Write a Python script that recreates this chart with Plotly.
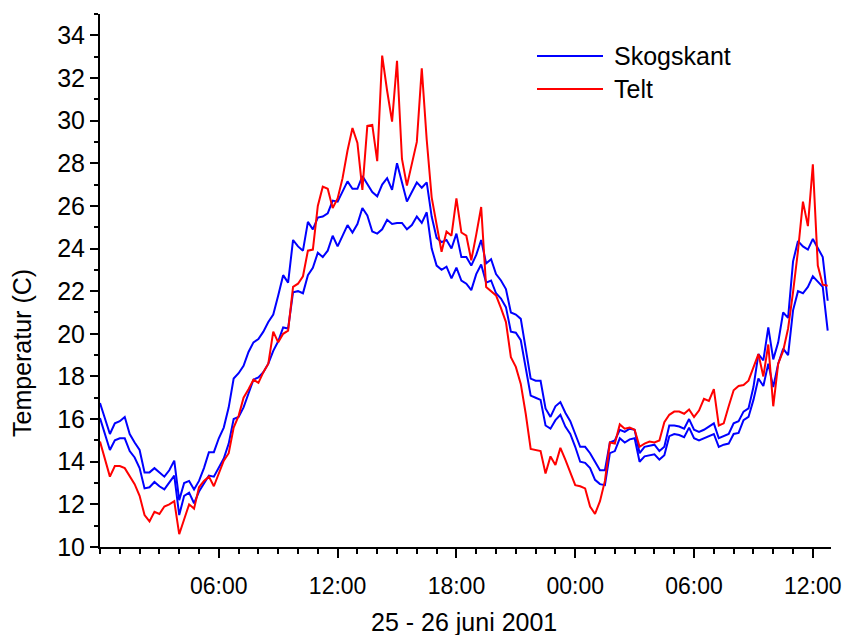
import pandas as pd
import plotly.graph_objects as go

# 15-minute readings starting 25 June 2001 00:00
start_time = "2001-06-25 00:00"
interval = "15min"

skogskant_a = [
    16.75, 16.0, 15.3, 15.8, 15.9, 16.1, 15.3, 14.9, 14.55, 13.5,
    13.5, 13.7, 13.5, 13.3, 13.6, 14.05, 12.2, 13.0, 13.1, 12.7,
    13.1, 13.7, 14.45, 14.45, 15.1, 15.6, 16.55, 17.9, 18.15, 18.5,
    19.15, 19.6, 19.75, 20.1, 20.55, 20.9, 21.8, 22.75,
    22.4, 24.4, 24.1, 23.9, 25.25, 24.9, 25.45, 25.5, 25.65, 26.25,
    26.2, 26.7, 27.15, 26.8, 26.8, 27.4, 27.0, 26.65, 26.45, 27.0,
    27.3, 26.75, 28.0, 27.05, 26.2, 26.65, 27.1, 26.85, 27.1, 25.5,
    24.5, 24.3, 24.4, 24.0, 24.7, 23.6, 23.6,
    23.2, 23.7, 24.4, 23.3, 23.5, 22.8, 22.5, 22.1, 21.0, 20.9,
    20.7, 19.3, 17.9, 17.8, 17.8, 16.5, 16.1, 16.6, 16.8, 16.3, 15.9,
    15.3, 14.7, 14.7, 14.4, 14.0, 13.6, 13.6, 14.9, 15.0, 15.5,
    15.4, 15.55, 15.5, 14.4, 14.7, 14.75,
    14.8, 14.5, 14.7, 15.7, 15.7, 15.65, 15.55, 16.0, 15.5, 15.4,
    15.5, 15.65, 15.8, 15.1, 15.2, 15.3, 15.8, 15.9, 16.35, 16.5,
    17.5, 19.05, 18.75, 20.3, 18.8, 19.6, 21.0, 20.75, 23.4, 24.35,
    24.1, 23.95, 24.45, 24.05, 23.6, 21.55,
]

skogskant_b = [
    16.05, 15.3, 14.55, 15.0, 15.1, 15.1, 14.5, 14.2, 13.7, 12.75,
    12.8, 13.05, 12.85, 12.7, 13.05, 13.35, 11.5, 12.4, 12.55, 12.05,
    12.6, 12.95, 13.35, 13.3, 13.75, 14.15, 14.85, 16.0, 16.1, 16.55,
    17.2, 17.85, 17.95, 18.2, 18.6, 19.2, 19.65, 20.3,
    20.25, 21.95, 22.0, 21.9, 22.75, 23.1, 23.8, 23.6, 23.9, 24.6,
    24.1, 24.6, 25.1, 24.75, 25.15, 25.9, 25.55, 24.8, 24.7, 24.9,
    25.35, 25.15, 25.2, 25.2, 24.9, 25.1, 25.5, 25.2, 25.7, 24.0,
    23.2, 23.0, 23.15, 22.6, 23.1, 22.5, 22.35,
    22.05, 22.8, 23.25, 22.4, 22.5, 21.9, 21.65, 21.25, 20.1, 20.05,
    19.7, 18.45, 17.1, 17.0, 16.9, 15.7, 15.55, 15.95, 16.2, 15.65, 15.3,
    14.7, 14.0, 13.95, 13.7, 13.15, 12.95, 12.9, 14.4, 14.5, 15.1,
    14.9, 15.05, 15.1, 14.0, 14.25, 14.3,
    14.35, 14.1, 14.3, 15.2, 15.3, 15.25, 15.15, 15.6, 15.1, 15.0,
    15.1, 15.2, 15.3, 14.7, 14.8, 14.85, 15.3, 15.35, 15.95, 16.1,
    16.9, 17.9, 17.55, 18.6, 17.5, 18.6, 19.3, 19.0, 21.1, 22.0,
    21.9, 22.2, 22.7, 22.45, 22.2, 20.15,
]

telt = [
    14.95, 14.15, 13.3, 13.8, 13.8, 13.7, 13.35, 12.95, 12.4, 11.5,
    11.2, 11.65, 11.55, 11.9, 12.0, 12.15, 10.6, 11.25, 12.0, 11.8,
    12.8, 13.1, 13.3, 12.85, 13.45, 14.05, 14.4, 15.6, 16.15, 17.0,
    17.4, 17.85, 17.7, 18.2, 18.6, 20.1, 19.6, 20.0,
    20.15, 22.2, 22.35, 22.7, 23.9, 23.95, 26.0, 26.9, 26.8, 25.9,
    26.35, 27.3, 28.6, 29.65, 28.95, 26.75, 29.75, 29.8, 28.1, 33.05,
    31.4, 29.95, 32.8, 28.2, 26.95, 28.0, 29.0, 32.45, 29.1, 26.4,
    25.2, 23.85, 24.8, 24.6, 26.35, 24.75, 24.6,
    23.45, 24.65, 25.95, 22.2, 22.0, 21.8, 21.2, 20.55, 18.9, 18.45,
    17.65, 16.25, 14.6, 14.55, 14.5, 13.45, 14.25, 13.85, 14.65, 14.1, 13.5,
    12.9, 12.85, 12.75, 11.9, 11.55, 12.15, 13.1, 14.9, 14.85, 15.75,
    15.55, 15.6, 15.5, 14.7, 14.85, 14.95,
    14.9, 15.0, 15.85, 16.2, 16.35, 16.35, 16.25, 16.45, 16.1, 16.4,
    16.95, 16.85, 17.4, 15.7, 15.8, 16.6, 17.35, 17.55, 17.6, 17.8,
    18.4, 19.05, 18.0, 19.5, 16.6, 18.6, 19.2, 20.25, 21.95, 23.9,
    26.2, 25.05, 27.95, 23.2, 22.3, 22.25,
]

tick_times = ["2001-06-25 06:00", "2001-06-25 12:00", "2001-06-25 18:00",
              "2001-06-26 00:00", "2001-06-26 06:00", "2001-06-26 12:00"]
tick_labels = ["06:00", "12:00", "18:00", "00:00", "06:00", "12:00"]
y_ticks = [10, 12, 14, 16, 18, 20, 22, 24, 26, 28, 30, 32, 34]

times = pd.date_range(start_time, periods=len(telt), freq=interval)

BLUE = "#0000FF"
RED = "#FF0000"
FONT = "Liberation Sans, Arial, sans-serif"
FS = 25

fig = go.Figure()
fig.add_trace(go.Scatter(x=times, y=skogskant_a, mode="lines", name="Skogskant",
                         line=dict(color=BLUE, width=2), legendgroup="s"))
fig.add_trace(go.Scatter(x=times, y=skogskant_b, mode="lines", name="Skogskant",
                         line=dict(color=BLUE, width=2), legendgroup="s", showlegend=False))
fig.add_trace(go.Scatter(x=times, y=telt, mode="lines", name="Telt",
                         line=dict(color=RED, width=2)))

fig.update_layout(
    width=842, height=635,
    margin=dict(l=100, r=11, t=14, b=88, autoexpand=False),
    paper_bgcolor="white", plot_bgcolor="white",
    showlegend=False,
    font=dict(family=FONT, size=FS, color="black"),
)

fig.update_xaxes(
    range=["2001-06-25 00:00", "2001-06-26 12:55"],
    tickmode="array", tickvals=tick_times, ticktext=tick_labels,
    ticks="outside", ticklen=9, tickwidth=2, tickcolor="black",
    ticklabelstandoff=8, ticklabeloverflow="allow", automargin=False,
    showline=True, linecolor="black", linewidth=2,
    showgrid=False, zeroline=False,
    minor=dict(ticks="outside", ticklen=5, tickwidth=1.5, tickcolor="black",
               dtick=3600000, tick0="2001-06-25 00:00", showgrid=False),
    tickfont=dict(family=FONT, size=23, color="black"),
)
fig.update_yaxes(
    range=[10, 35], automargin=False,
    tickmode="array", tickvals=y_ticks,
    ticks="outside", ticklen=8, tickwidth=2, tickcolor="black",
    showline=True, linecolor="black", linewidth=2,
    showgrid=False, zeroline=False,
    minor=dict(ticks="outside", ticklen=4, tickwidth=1.5, tickcolor="black",
               dtick=1, tick0=10, showgrid=False),
    tickfont=dict(family=FONT, size=FS, color="black"),
)

# axis titles
fig.add_annotation(text="Temperatur (C)", xref="paper", yref="paper",
                   x=(22 - 100) / 731, y=(547 - 353) / 533, textangle=-90,
                   showarrow=False, xanchor="center", yanchor="middle",
                   font=dict(family=FONT, size=FS, color="black"))
fig.add_annotation(text="25 - 26 juni 2001", xref="paper", yref="paper",
                   x=(464 - 100) / 731, y=(547 - 622) / 533,
                   showarrow=False, xanchor="center", yanchor="middle",
                   font=dict(family=FONT, size=FS, color="black"))

# legend
legend_items = [("Skogskant", BLUE, 56), ("Telt", RED, 89)]
for label, color, py in legend_items:
    yp = (547 - py) / 533
    fig.add_shape(type="line", xref="paper", yref="paper",
                  x0=(537 - 100) / 731, x1=(603 - 100) / 731, y0=yp, y1=yp,
                  line=dict(color=color, width=2))
    fig.add_annotation(text=label, xref="paper", yref="paper",
                       x=(612 - 100) / 731, y=yp, showarrow=False,
                       xanchor="left", yanchor="middle",
                       font=dict(family=FONT, size=FS, color="black"))

fig.write_html("out.html")
